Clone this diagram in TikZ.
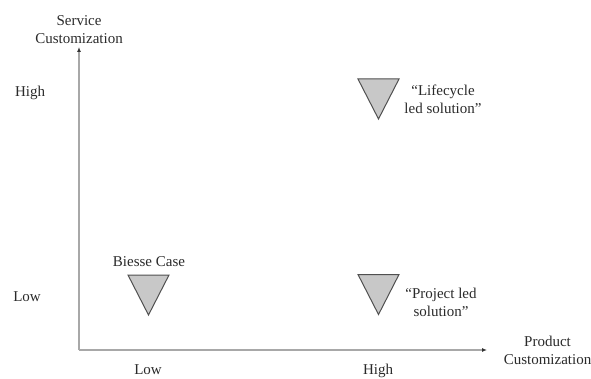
\documentclass[tikz,border=0pt]{standalone}
\usepackage{fontspec}
\setmainfont{Liberation Serif}
\usetikzlibrary{arrows.meta}
\definecolor{txt}{HTML}{2A2A2A}
\definecolor{axis}{HTML}{A8A8A8}
\definecolor{trifill}{HTML}{C8C8C8}
\definecolor{triline}{HTML}{505050}
\tikzset{
  lbl/.style={text=txt,font=\fontsize{15}{18}\selectfont,align=center,inner sep=0pt},
  axisline/.style={draw=axis,line width=1.1pt,-{Latex[length=5pt,width=4pt,color=black!80]}},
  tri/.style={fill=trifill,draw=triline,line width=1pt,line join=miter}
}
\newcommand\invtri[1]{\draw[tri] (#1) ++(-20.5,-20) -- ++(41,0) -- ++(-20.5,40) -- cycle;}
\begin{document}
\begin{tikzpicture}[x=1pt,y=-1pt]
\useasboundingbox (0,0) rectangle (591,379);
\coordinate (o) at (79,350);
\coordinate (ytip) at (79,47);
\coordinate (xtip) at (487,350);
\draw[axisline] (o) -- (ytip);
\draw[axisline] (o) -- (xtip);
\node[lbl] (ylab) at (79,29.5) {Service\\Customization};
\node[lbl] (xlab) at (547.5,350) {Product\\Customization};
\node[lbl] (yhigh) at (30,93) {High};
\node[lbl] (ylow) at (27,297) {Low};
\node[lbl] (xlow) at (148,370) {Low};
\node[lbl] (xhigh) at (378,371) {High};
\coordinate (t1) at (378.5,99);
\coordinate (t2) at (148.5,295);
\coordinate (t3) at (378.5,294.5);
\invtri{t1}
\invtri{t2}
\invtri{t3}
\node[lbl] (l1) at (443,99) {“Lifecycle\\led solution”};
\node[lbl] (l2) at (149,262) {Biesse Case};
\node[lbl] (l3) at (441,302) {“Project led\\solution”};
\end{tikzpicture}
\end{document}
